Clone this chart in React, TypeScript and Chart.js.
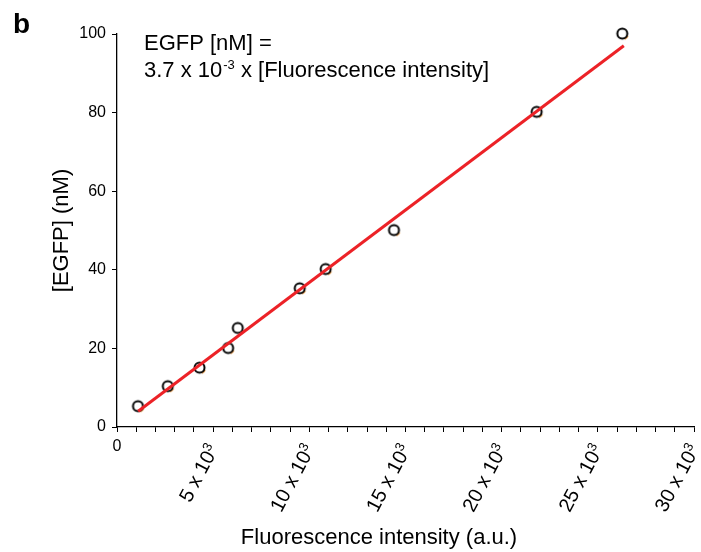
import React, { useEffect, useRef } from 'react';
import { Chart, registerables } from 'chart.js';
Chart.register(...registerables);

const intensity = [1090, 2640, 4290, 5780, 6280, 9500, 10850, 14400, 21820, 26270];
const egfp = [5.3, 10.4, 15.1, 20.1, 25.2, 35.3, 40.2, 50.1, 80.2, 100.1];
const fitIntensity = [1100, 26350];
const fitEgfp = [4.0, 97.0];
const xLabelValues = [0, 5000, 10000, 15000, 20000, 25000, 30000];
const xLabelMain = ['0', '5 x 10', '10 x 10', '15 x 10', '20 x 10', '25 x 10', '30 x 10'];
const xLabelSup = ['', '3', '3', '3', '3', '3', '3'];
const equationLine1 = 'EGFP [nM] =';
const equationPre = '3.7 x 10';
const equationSup = '-3';
const equationPost = ' x [Fluorescence intensity]';
const xTitle = 'Fluorescence intensity (a.u.)';
const yTitle = '[EGFP] (nM)';
const panelLetter = 'b';

const FONT = "'Liberation Sans', Arial, sans-serif";

function makeMarker(): HTMLCanvasElement {
  const c = document.createElement('canvas');
  c.width = 17;
  c.height = 17;
  const g = c.getContext('2d')!;
  g.lineWidth = 1.6;
  g.strokeStyle = '#f39a3c';
  g.beginPath();
  g.arc(9.3, 9.3, 4.9, 0.1 * Math.PI, 0.4 * Math.PI);
  g.stroke();
  g.lineWidth = 2;
  g.strokeStyle = '#000';
  g.beginPath();
  g.arc(8.5, 8.5, 5, 0, Math.PI * 2);
  g.stroke();
  return c;
}

const textPlugin = {
  id: 'textPlugin',
  afterDraw(chart: any) {
    const ctx = chart.ctx as CanvasRenderingContext2D;
    const xs = chart.scales.x;
    const axisY = chart.chartArea.bottom;
    ctx.save();
    ctx.fillStyle = '#000';
    // panel letter
    ctx.font = `bold 28px ${FONT}`;
    ctx.textAlign = 'left';
    ctx.textBaseline = 'alphabetic';
    ctx.fillText(panelLetter, 13, 33);
    // equation
    ctx.font = `22px ${FONT}`;
    ctx.fillText(equationLine1, 144, 50);
    ctx.fillText(equationPre, 144, 77);
    let x = 144 + ctx.measureText(equationPre).width + 1;
    ctx.font = `13px ${FONT}`;
    ctx.fillText(equationSup, x, 69);
    x += ctx.measureText(equationSup).width;
    ctx.font = `22px ${FONT}`;
    ctx.fillText(equationPost, x, 77);
    // x title
    ctx.textAlign = 'center';
    ctx.textBaseline = 'middle';
    ctx.fillText(xTitle, 379, 538);
    // x tick labels
    xLabelValues.forEach((v, i) => {
      const px = xs.getPixelForValue(v);
      if (!xLabelSup[i]) {
        ctx.font = `16px ${FONT}`;
        ctx.textAlign = 'center';
        ctx.textBaseline = 'middle';
        ctx.fillText(xLabelMain[i], px, axisY + 20);
        return;
      }
      ctx.save();
      ctx.translate(px + 6, axisY + 22);
      ctx.rotate((-62 * Math.PI) / 180);
      ctx.font = `13px ${FONT}`;
      const supW = ctx.measureText(xLabelSup[i]).width;
      ctx.textAlign = 'left';
      ctx.textBaseline = 'alphabetic';
      ctx.fillText(xLabelSup[i], -supW, -7);
      ctx.font = `20px ${FONT}`;
      ctx.textAlign = 'right';
      ctx.fillText(xLabelMain[i], -supW, 0);
      ctx.restore();
    });
    ctx.restore();
  },
};

export default function App() {
  const ref = useRef<HTMLCanvasElement>(null);
  useEffect(() => {
    const marker = makeMarker();
    const chart = new Chart(ref.current!, {
      type: 'scatter',
      data: {
        datasets: [
          {
            label: 'fit',
            data: fitIntensity.map((v, i) => ({ x: v, y: fitEgfp[i] })),
            showLine: true,
            borderColor: '#ec2227',
            borderWidth: 3,
            pointRadius: 0,
            order: 0,
            clip: false,
          },
          {
            label: 'EGFP',
            data: intensity.map((v, i) => ({ x: v, y: egfp[i] })),
            pointStyle: marker as any,
            pointRadius: 6,
            showLine: false,
            order: 1,
            clip: false,
          },
        ],
      },
      options: {
        responsive: false,
        animation: false,
        layout: { padding: { top: 34, right: 4, left: 0, bottom: 0 } },
        plugins: { legend: { display: false }, tooltip: { enabled: false } },
        scales: {
          x: {
            type: 'linear',
            min: 0,
            max: 30000,
            afterFit: (s: any) => {
              s.height = 125;
            },
            ticks: { stepSize: 1000, maxTicksLimit: 100, autoSkip: false, display: false },
            grid: { drawOnChartArea: false, drawTicks: true, tickLength: 5, color: '#000' },
            border: { display: true, color: '#000', width: 1.3 },
          },
          y: {
            type: 'linear',
            min: 0,
            max: 100,
            afterFit: (s: any) => {
              s.width = 117;
            },
            ticks: { stepSize: 20, color: '#000', padding: 6, font: { size: 16, family: FONT } },
            grid: { drawOnChartArea: false, drawTicks: true, tickLength: 5, color: '#000' },
            border: { display: true, color: '#000', width: 1.3 },
            title: {
              display: true,
              text: yTitle,
              color: '#000',
              font: { size: 22, family: FONT },
              padding: { top: 49, bottom: 0 },
            },
          },
        },
      },
      plugins: [textPlugin],
    });
    return () => chart.destroy();
  }, []);
  return (
    <canvas
      ref={ref}
      width={701}
      height={552}
      style={{ position: 'absolute', left: 0, top: 0, width: 701, height: 552 }}
    />
  );
}
